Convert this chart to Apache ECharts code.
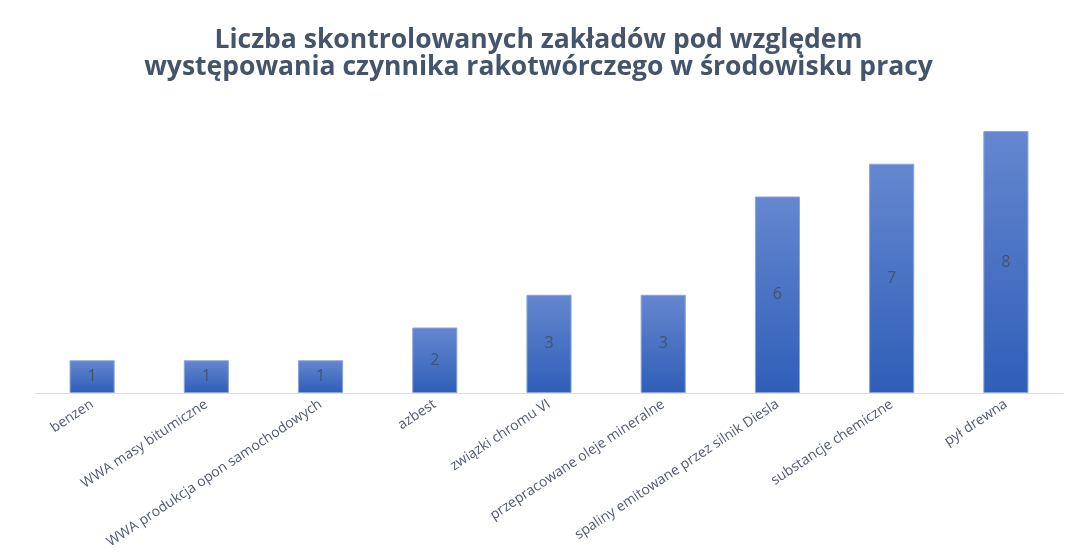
<!DOCTYPE html>
<html>
<head>
<meta charset="utf-8">
<script src="https://cdn.jsdelivr.net/npm/echarts@6/dist/echarts.min.js"></script>
<style>
  html, body { margin: 0; padding: 0; background: #fff; }
  #chart { width: 1077px; height: 557px; }
</style>
</head>
<body>
<div id="chart"></div>
<script>
const categories = [
  'benzen',
  'WWA masy bitumiczne',
  'WWA produkcja opon samochodowych',
  'azbest',
  'związki chromu VI',
  'przepracowane oleje mineralne',
  'spaliny emitowane przez silnik Diesla',
  'substancje chemiczne',
  'pył drewna',
]
const counts = [1, 1, 1, 2, 3, 3, 6, 7, 8]
const titleText = 'Liczba skontrolowanych zakładów pod względem\nwystępowania czynnika rakotwórczego w środowisku pracy'

const chart = echarts.init(document.getElementById('chart'))

const barColor = new echarts.graphic.LinearGradient(0, 0, 0, 1, [
  { offset: 0, color: '#6587CF' },
  { offset: 1, color: '#2F5EB8' },
])

chart.setOption({
  animation: false,
  backgroundColor: '#fff',
  title: {
    text: titleText,
    left: 'center',
    top: 22,
    padding: [5, 5, 5, 27],
    textStyle: {
      fontFamily: 'Open Sans',
      fontWeight: 'bold',
      fontSize: 26.5,
      lineHeight: 27,
      color: '#44546A',
    },
  },
  grid: { left: 35, right: 14, top: 131, bottom: 164, outerBoundsMode: 'none' },
  xAxis: {
    type: 'category',
    data: categories,
    axisLine: { lineStyle: { color: '#D9DEE8', width: 1 } },
    axisTick: { show: false },
    axisLabel: {
      rotate: 33.5,
      interval: 0,
      margin: 10,
      color: '#505A6E',
      fontSize: 14,
      fontFamily: 'Open Sans',
    },
  },
  yAxis: {
    type: 'value',
    min: 0,
    max: 8,
    show: false,
  },
  series: [
    {
      type: 'bar',
      data: counts,
      barWidth: '39.5%',
      itemStyle: { color: barColor, borderColor: '#8AA3DA', borderWidth: 1 },
      label: {
        show: true,
        position: 'inside',
        color: '#44546A',
        fontSize: 16,
        fontFamily: 'Open Sans',
      },
    },
  ],
})
</script>
</body>
</html>
